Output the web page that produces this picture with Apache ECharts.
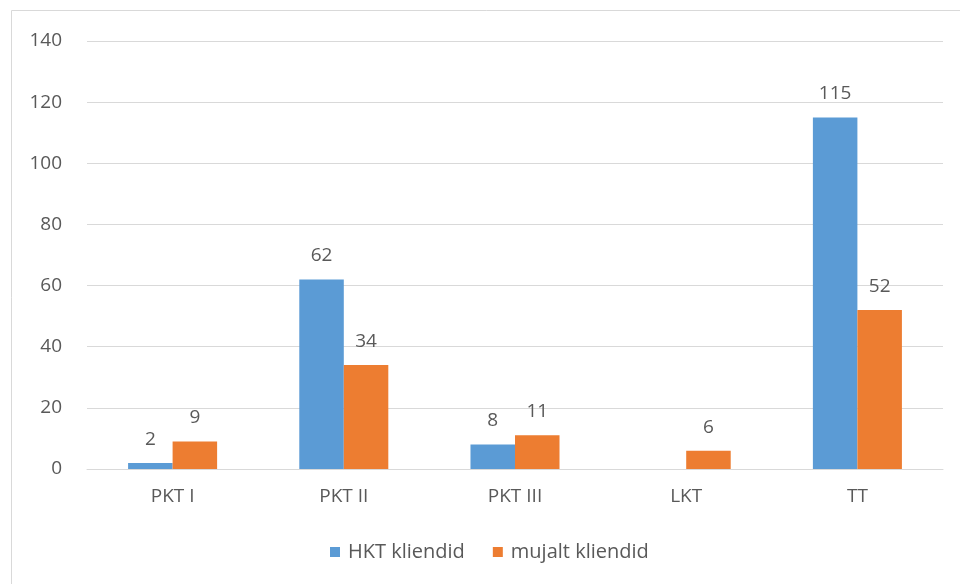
<!DOCTYPE html>
<html><head><meta charset="utf-8">
<script src="https://cdn.jsdelivr.net/npm/echarts@6/dist/echarts.min.js"></script>
<style>html,body{margin:0;padding:0;background:#fff}#c{width:960px;height:584px}</style>
</head><body><div id="c"></div>
<script>
const categories = ['PKT I', 'PKT II', 'PKT III', 'LKT', 'TT'];
const hktKliendid = [2, 62, 8, null, 115];
const mujaltKliendid = [9, 34, 11, 6, 52];
const seriesNames = ['HKT kliendid', 'mujalt kliendid'];

const chart = echarts.init(document.getElementById('c'));
const txt = '#595959';
const font = 'Open Sans';
const fs = 19;
chart.setOption({
  animation: false,
  textStyle: { fontFamily: font },
  graphic: [{ type: 'rect', shape: { x: 11.5, y: 10.5, width: 1200, height: 1200 }, style: { fill: 'none', stroke: '#d9d9d9', lineWidth: 1 }, silent: true }],
  grid: { left: 87, right: 17, top: 41, bottom: 115 },
  legend: {
    top: 537, left: 325, itemWidth: 10, itemHeight: 10, itemGap: 28, icon: 'rect',
    textStyle: { color: txt, fontSize: 20, fontFamily: font, padding: [0, 0, 0, 3] }
  },
  xAxis: {
    type: 'category', data: categories,
    axisLine: { lineStyle: { color: '#d9d9d9' } }, axisTick: { show: false },
    axisLabel: { color: txt, fontSize: fs, margin: 18, fontFamily: font }
  },
  yAxis: {
    type: 'value', min: 0, max: 140, interval: 20,
    axisLine: { show: false }, axisTick: { show: false },
    splitLine: { lineStyle: { color: '#d9d9d9' } },
    axisLabel: { color: txt, fontSize: fs, margin: 25, fontFamily: font }
  },
  series: [
    { name: seriesNames[0], type: 'bar', data: hktKliendid, barWidth: '26%', barGap: '0%',
      itemStyle: { color: '#5b9bd5' },
      label: { show: true, position: 'top', distance: 14, color: txt, fontSize: fs, fontFamily: font } },
    { name: seriesNames[1], type: 'bar', data: mujaltKliendid, barWidth: '26%',
      itemStyle: { color: '#ed7d31' },
      label: { show: true, position: 'top', distance: 14, color: txt, fontSize: fs, fontFamily: font } }
  ]
});
</script></body></html>
